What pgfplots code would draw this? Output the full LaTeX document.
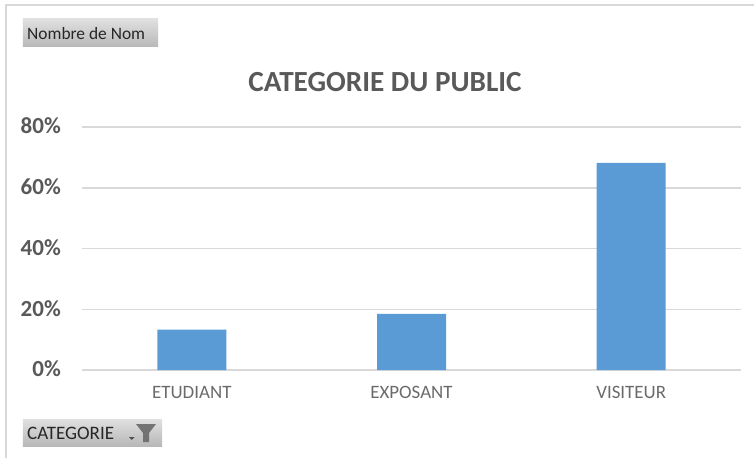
\documentclass[border=0pt]{standalone}
\usepackage{pgfplots}
\pgfplotsset{compat=1.18}
\usepackage{fontspec}
\setmainfont{Carlito}
\definecolor{gridc}{HTML}{D9D9D9}
\definecolor{barc}{HTML}{5B9BD5}
\definecolor{txtc}{HTML}{595959}
\definecolor{btop}{HTML}{E0E0E0}
\definecolor{bbot}{HTML}{B8B8B8}
\begin{document}
\begin{tikzpicture}[x=1pt,y=1pt]
% image (x,y) -> (x-82, 370-y)
\useasboundingbox (-82,-88) rectangle (672,370);
\begin{axis}[
  at={(0,0)}, anchor=south west,
  scale only axis, width=659pt, height=243pt,
  xmin=-0.5, xmax=2.5, ymin=0, ymax=80,
  xtick={0,1,2}, xticklabels={ETUDIANT,EXPOSANT,VISITEUR},
  ytick={0,20,40,60,80}, yticklabels={0\%,20\%,40\%,60\%,80\%},
  ymajorgrids, grid style={gridc,line width=1.5pt},
  major tick length=0pt,
  axis x line*=bottom, axis y line*=left,
  x axis line style={gridc,line width=1.5pt,-},
  y axis line style={draw=none},
  x tick label style={font=\fontsize{18.9}{21}\selectfont,text=txtc!90,inner sep=0pt,yshift=-16pt},
  y tick label style={font=\fontsize{23}{25}\selectfont\bfseries,text=txtc,inner sep=0pt,anchor=east,xshift=-21pt,yshift=1pt},
  /pgf/number format/assume math mode=true,
  clip=false,
]
\addplot[ybar,bar width=69pt,fill=barc,draw=none,bar shift=0pt] coordinates {(0,13.3) (1,18.5) (2,68.2)};
\end{axis}
% outer frame
\draw[gridc,line width=2pt] (-75.5,-88) -- (-75.5,364.5) -- (672,364.5);
% title
\node[font=\fontsize{29.2}{31}\selectfont\bfseries,text=txtc,inner sep=0pt] at (303,287.5) {CATEGORIE DU PUBLIC};
% field buttons
\shade[top color=btop,bottom color=bbot] (-59,323) rectangle (76,351);
\node[anchor=west,inner sep=0pt,font=\fontsize{17.4}{19}\selectfont,text=black!85] at (-55,336.5) {Nombre de Nom};
\shade[top color=btop,bottom color=bbot] (-59,-76) rectangle (80,-49);
\node[anchor=west,inner sep=0pt,font=\fontsize{19}{21}\selectfont,text=black!85] at (-55,-63) {CATEGORIE};
\fill[black!70] (47,-67) -- (52.5,-67) -- (49.75,-70) -- cycle;
\fill[black!55] (54,-54) -- (74,-54) -- (67,-63) -- (67,-72) -- (61,-72) -- (61,-63) -- cycle;
\end{tikzpicture}
\end{document}
